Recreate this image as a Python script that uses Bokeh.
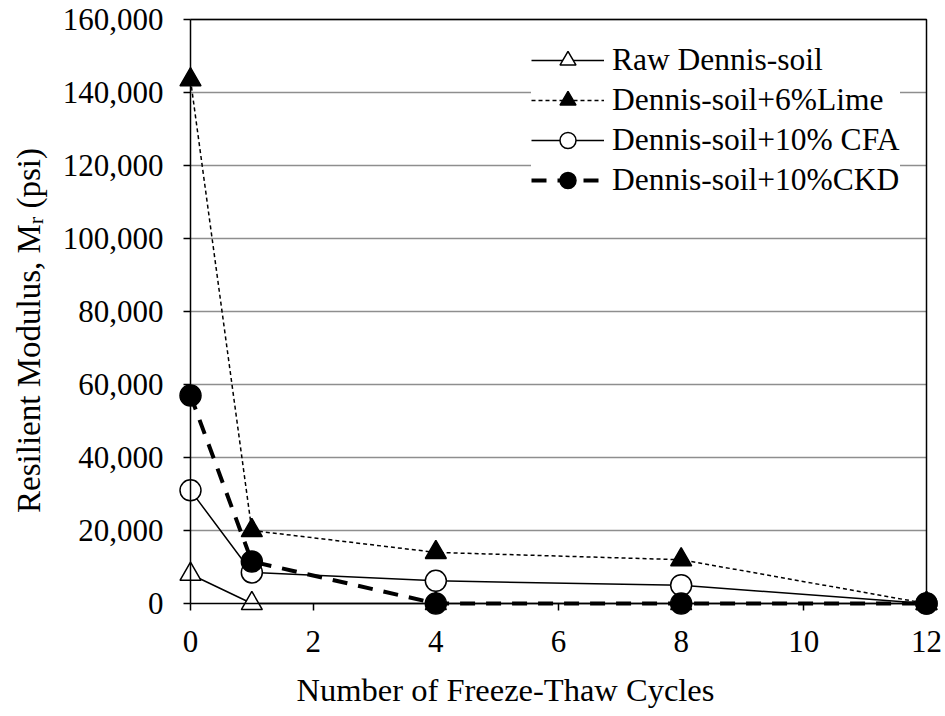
import math
from bokeh.plotting import figure
from bokeh.models import Range1d, Legend, LegendItem, Label, NumeralTickFormatter, FixedTicker
from bokeh.embed import file_html
from bokeh.resources import INLINE

# ---- data ----
cycles = [0, 1, 4, 8, 12]
raw_soil = [8000, 0, 0, 0, 0]
lime_6 = [143500, 20000, 14000, 12000, 0]
cfa_10 = [31000, 8500, 6200, 5000, 0]
ckd_10 = [57000, 11500, 0, 0, 0]
series_names = ["Raw Dennis-soil", "Dennis-soil+6%Lime", "Dennis-soil+10% CFA", "Dennis-soil+10%CKD"]
x_ticks = [0, 2, 4, 6, 8, 10, 12]
y_ticks = [0, 20000, 40000, 60000, 80000, 100000, 120000, 140000, 160000]
x_title = "Number of Freeze-Thaw Cycles"
y_title_parts = ["Resilient Modulus, M", "r", "(psi)"]

FONT = "Liberation Serif"
FS = "31px"

x_min, x_max = x_ticks[0], x_ticks[-1]
y_min, y_max = y_ticks[0], y_ticks[-1]

# frame covers the whole canvas so that nothing gets clipped
W, H = 944, 715
AX_LEFT, AX_RIGHT = 190, 926      # pixel of x_min / x_max
AX_TOP, AX_BOTTOM = 19, 603       # pixel of y_max / y_min
kx = (AX_RIGHT - AX_LEFT) / (x_max - x_min)
ky = (AX_BOTTOM - AX_TOP) / (y_max - y_min)
xr = Range1d(x_min - AX_LEFT / kx, x_min + (W - AX_LEFT) / kx)
yr = Range1d(y_min - (H - AX_BOTTOM) / ky, y_min + AX_BOTTOM / ky)

p = figure(frame_width=W, frame_height=H, x_range=xr, y_range=yr,
           output_backend="svg", toolbar_location=None,
           min_border_left=0, min_border_right=0, min_border_top=0, min_border_bottom=0)
p.outline_line_color = None
p.xgrid.visible = False
p.ygrid.visible = False
p.background_fill_color = "white"
p.border_fill_color = "white"

# gridlines (between x_min and x_max only)
p.multi_line(xs=[[x_min, x_max] for _ in y_ticks[1:]], ys=[[t, t] for t in y_ticks[1:]],
             line_color="#8e8e8e", line_width=1.4)
# plot-area border: top and right
p.line([x_min, x_max, x_max], [y_max, y_max, y_min], line_color="black", line_width=1.5)

# axes (fixed at the data origin)
for ax in (p.xaxis[0], p.yaxis[0]):
    ax.axis_line_color = "black"
    ax.axis_line_width = 1.5
    ax.major_tick_line_color = "black"
    ax.major_tick_line_width = 1.5
    ax.major_tick_in = 0
    ax.major_tick_out = 7
    ax.minor_tick_line_color = None
    ax.major_label_text_font = FONT
    ax.major_label_text_font_size = FS
    ax.major_label_text_color = "black"
p.xaxis.fixed_location = 0
p.yaxis.fixed_location = 0
p.xaxis.bounds = (x_min, x_max)
p.yaxis.bounds = (y_min, y_max)
p.xaxis.ticker = FixedTicker(ticks=x_ticks)
p.yaxis.ticker = FixedTicker(ticks=y_ticks)
p.yaxis.formatter = NumeralTickFormatter(format="0,0")
p.xaxis.major_label_standoff = 20
p.yaxis.major_label_standoff = 20

# series
l1 = p.line(cycles, raw_soil, line_color="black", line_width=1.5)
m1 = p.scatter(cycles, raw_soil, marker="triangle", size=21, fill_color="white", line_color="black", line_width=1.5)
l2 = p.line(cycles, lime_6, line_color="black", line_width=1.5, line_dash="4 3")
m2 = p.scatter(cycles, lime_6, marker="triangle", size=21, fill_color="black", line_color="black", line_width=1.5)
l3 = p.line(cycles, cfa_10, line_color="black", line_width=1.5)
m3 = p.scatter(cycles, cfa_10, marker="circle", size=21, fill_color="white", line_color="black", line_width=1.5)
l4 = p.line(cycles, ckd_10, line_color="black", line_width=4, line_dash="15 11")
m4 = p.scatter(cycles, ckd_10, marker="circle", size=21, fill_color="black", line_color="black", line_width=1.5)

legend = Legend(items=[LegendItem(label=series_names[0], renderers=[l1, m1]),
                       LegendItem(label=series_names[1], renderers=[l2, m2]),
                       LegendItem(label=series_names[2], renderers=[l3, m3]),
                       LegendItem(label=series_names[3], renderers=[l4, m4])],
                location=(531, H - 200), margin=0, padding=15, spacing=0,
                glyph_width=73, glyph_height=40, label_height=40, label_standoff=8,
                label_text_font=FONT, label_text_font_size="31.5px", label_text_color="black",
                background_fill_color="white", background_fill_alpha=1.0,
                border_line_color=None)
p.add_layout(legend, "center")

# axis titles (screen units measured from the frame's bottom-left = canvas bottom-left)
p.add_layout(Label(x=505, y=H - 689, x_units="screen", y_units="screen", text=x_title,
                   text_font=FONT, text_font_size="32.5px", text_color="black",
                   text_align="center", text_baseline="middle"))
fs_y, fs_sub = 33, 22
w1 = 8.751 * fs_y
w2 = 0.333 * fs_sub + 0.25 * fs_y
w3 = 1.833 * fs_y
start_y = 330 + (w1 + w2 + w3) / 2
p.add_layout(Label(x=28, y=H - start_y, x_units="screen", y_units="screen", text=y_title_parts[0],
                   angle=math.pi / 2, text_font=FONT, text_font_size=f"{fs_y}px", text_color="black",
                   text_align="left", text_baseline="middle"))
p.add_layout(Label(x=35, y=H - start_y + w1, x_units="screen", y_units="screen", text=y_title_parts[1],
                   angle=math.pi / 2, text_font=FONT, text_font_size=f"{fs_sub}px", text_color="black",
                   text_align="left", text_baseline="middle"))
p.add_layout(Label(x=28, y=H - start_y + w1 + w2, x_units="screen", y_units="screen", text=y_title_parts[2],
                   angle=math.pi / 2, text_font=FONT, text_font_size=f"{fs_y}px", text_color="black",
                   text_align="left", text_baseline="middle"))

open("out.html", "w").write(file_html(p, INLINE))
